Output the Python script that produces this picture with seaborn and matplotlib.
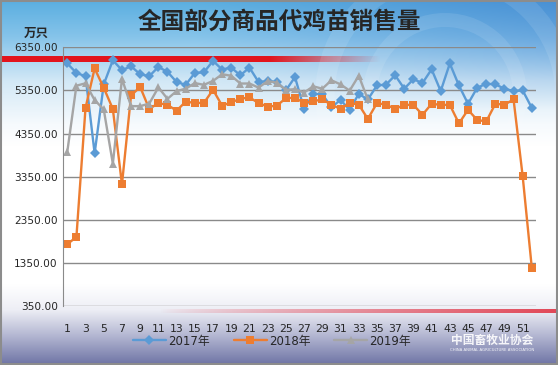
import numpy as np
import pandas as pd
import matplotlib
matplotlib.use("Agg")
import matplotlib.pyplot as plt
from matplotlib.colors import to_rgb
from matplotlib.lines import Line2D
from matplotlib.patches import Circle
import seaborn as sns

# weekly sales of commercial chicks (10k birds)
weeks = list(range(1, 53))
sales_2017 = [5975, 5755, 5680, 3890, 5490, 6050, 5820, 5910, 5725, 5680,
              5895, 5780, 5545, 5480, 5755, 5770, 6035, 5835, 5880, 5700,
              5880, 5545, 5565, 5545, 5350, 5660, 4920, 5270, 5260, 4960,
              5130, 4900, 5270, 5140, 5465, 5485, 5700, 5390, 5610, 5520,
              5840, 5335, 5975, 5465, 5040, 5410, 5505, 5490, 5390, 5335,
              5350, 4945]
sales_2018 = [1785, 1950, 4945, 5860, 5410, 4920, 3170, 5235, 5430, 4920,
              5055, 5015, 4880, 5090, 5060, 5060, 5365, 4995, 5075, 5155,
              5190, 5055, 4975, 4995, 5170, 5180, 5060, 5100, 5140, 5020,
              4920, 5060, 5020, 4690, 5055, 5020, 4920, 5015, 5015, 4785,
              5040, 5015, 5015, 4585, 4900, 4665, 4630, 5040, 5020, 5140,
              3360, 1240]
sales_2019 = [3930, 5460, 5515, 5125, 4910, 3650, 5620, 4985, 4985, 5045,
              5420, 5155, 5335, 5390, 5520, 5480, 5570, 5725, 5690, 5510,
              5510, 5415, 5565, 5530, 5360, 5380, 5300, 5445, 5390, 5585,
              5490, 5345, 5690, 5140]

years = ["2017年", "2018年", "2019年"]
colors = {"2017年": "#5B9BD5", "2018年": "#ED7D31", "2019年": "#A5A5A5"}
markers = {"2017年": "D", "2018年": "s", "2019年": "^"}
msizes = {"2017年": 4.6, "2018年": 6.2, "2019年": 6.0}

df = pd.concat([
    pd.DataFrame({"周": weeks[:len(v)], "销量": v, "年份": y})
    for y, v in zip(years, [sales_2017, sales_2018, sales_2019])
], ignore_index=True)

sns.set_style("white")
plt.rcParams["font.family"] = ["DejaVu Sans", "Noto Sans CJK SC"]

W, H = 558, 365
fig = plt.figure(figsize=(W / 100, H / 100), dpi=100)

# background gradient
bg = fig.add_axes([0, 0, 1, 1], zorder=0)
ys = np.linspace(0, 1, H)[:, None]
xs = np.linspace(0, 1, W)[None, :]
stops = [(0.00, "#5AAEE0"), (0.10, "#86C4EA"), (0.22, "#D2E8F6"),
         (0.34, "#F6FAFD"), (0.40, "#FFFFFF"), (0.78, "#FFFFFF"),
         (0.85, "#EDEEF5"), (0.92, "#B4B7D2"), (1.00, "#6E74A5")]
pos = [s[0] for s in stops]
img = np.zeros((H, W, 3))
for c in range(3):
    vals = [to_rgb(s[1])[c] for s in stops]
    img[:, :, c] = np.interp(ys[:, 0], pos, vals)[:, None]
# darker blue towards the top right
dark = np.array(to_rgb("#3F80CE"))
wgt = np.clip(1 - ys / 0.3, 0, 1) * np.clip((xs - 0.35) / 0.65, 0, 1) * 0.65
img = img * (1 - wgt[..., None]) + dark * wgt[..., None]
bg.imshow(img, extent=[0, W, 0, H], aspect="auto", origin="upper")

# faint logo rings in the background
for r, lw in [(120, 14), (75, 10)]:
    bg.add_patch(Circle((445, H - 95), r, fill=False, ec="white", lw=lw,
                        alpha=0.1))

# red decorative bar near the top
bar = np.zeros((1, W, 4))
bar[..., :3] = to_rgb("#E2141C")
bar[0, :, 3] = np.clip(1 - (np.arange(W) - 270) / 110, 0, 1)
bg.imshow(bar, extent=[0, W, H - 62, H - 56.5], aspect="auto")
# pink stripe near the bottom
stripe = np.zeros((1, W, 4))
stripe[..., :3] = to_rgb("#E14656")
stripe[0, :, 3] = np.clip((np.arange(W) - 160) / 400, 0, 1) ** 0.8
bg.imshow(stripe, extent=[0, W, H - 313.5, H - 309.5], aspect="auto")
bg.set_xlim(0, W)
bg.set_ylim(0, H)
bg.axis("off")
bg.add_patch(plt.Rectangle((1, 1), W - 2, H - 2, fill=False,
                           ec="#8C8C8C", lw=1.5))

# main chart
ax = fig.add_axes([63.3 / W, 1 - 306 / H, (535.7 - 63.3) / W, (306 - 47.3) / H],
                  zorder=1)
ax.patch.set_alpha(0)
for y in years:
    sns.lineplot(data=df[df["年份"] == y], x="周", y="销量", ax=ax,
                 color=colors[y], marker=markers[y], markersize=msizes[y],
                 markeredgewidth=0, linewidth=1.7, legend=False,
                 estimator=None, sort=False)

ax.set_xlim(0.56, 52.43)
ax.set_ylim(350, 6350)
ax.set_yticks(np.arange(350, 6351, 1000))
ax.set_yticklabels([f"{v:.2f}" for v in np.arange(350, 6351, 1000)], fontsize=7.6)
ax.set_xticks(range(1, 52, 2))
ax.set_xticklabels([str(w) for w in range(1, 52, 2)], fontsize=7.8)
ax.tick_params(axis="both", length=0, pad=4)
ax.tick_params(axis="x", pad=13)
ax.yaxis.grid(True, color="#8A8A8A", lw=1)
ax.set_axisbelow(True)
for s in ["top", "right", "bottom"]:
    ax.spines[s].set_visible(False)
ax.spines["left"].set_color("#8A8A8A")
ax.set_xlabel("")
ax.set_ylabel("")

fig.text(0.5, 1 - 22 / H, "全国部分商品代鸡苗销售量", ha="center", va="center",
         fontsize=17, fontweight="bold", family=["Noto Sans CJK SC"])
fig.text(36 / W, 1 - 33 / H, "万只", ha="center", va="center",
         fontsize=9, fontweight="bold", family=["Noto Sans CJK SC"])

handles = [Line2D([], [], color=colors[y], marker=markers[y],
                  markersize=msizes[y], markeredgewidth=0, lw=1.7)
           for y in years]
fig.legend(handles, years, loc="center", bbox_to_anchor=(272 / W, 1 - 341 / H),
           ncol=3, frameon=False, fontsize=8.5, handlelength=2.8,
           handletextpad=0.2, columnspacing=2.0)

# association watermark (kept just below the week labels)
fig.text(492 / W, 1 - 340 / H, "中国畜牧业协会", ha="center", va="center",
         fontsize=8.5, color="white", alpha=0.9, fontweight="bold",
         family=["Noto Sans CJK SC"], zorder=0.5)
fig.text(492 / W, 1 - 350 / H, "CHINA ANIMAL AGRICULTURE ASSOCIATION",
         ha="center", va="center", fontsize=2.8, color="white", alpha=0.9,
         zorder=0.5)

fig.savefig("out.png", dpi=100)
